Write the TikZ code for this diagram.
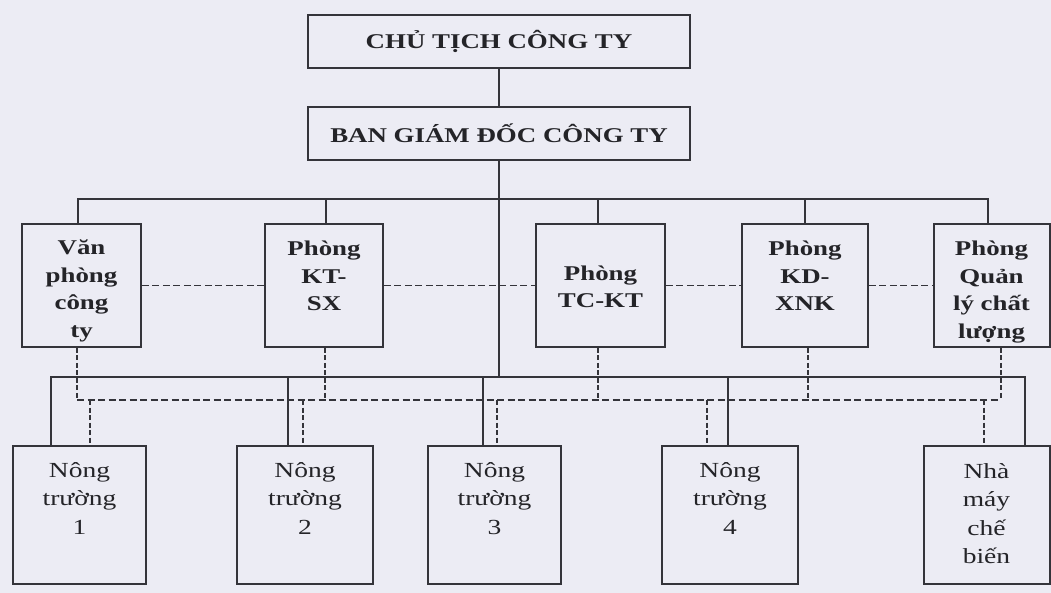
\documentclass[tikz,border=0pt]{standalone}
\usepackage{fontspec}
\setmainfont{Liberation Serif}[FakeStretch=1.28]
\definecolor{paper}{RGB}{236,236,244}
\definecolor{ink}{RGB}{52,52,58}
\definecolor{inktext}{RGB}{36,36,40}
\tikzset{
  box/.style={draw=ink, line width=1.5pt, rectangle, inner sep=0pt},
  wire/.style={draw=ink, line width=1.5pt},
  hdash/.style={wire, dash pattern=on 7pt off 3.5pt},
  vdash/.style={wire, dash pattern=on 5pt off 2.5pt},
  headtxt/.style={font=\bfseries\fontsize{21}{28}\selectfont, text=inktext},
  depttxt/.style={align=center, inner sep=0pt, text=inktext,
    font=\bfseries\fontsize{21}{27.5}\selectfont},
  unittxt/.style={align=center, inner sep=0pt, text=inktext,
    font=\fontsize{21.5}{28.5}\selectfont},
  dept/.style={box, minimum height=123pt},
  unit/.style={box, minimum height=138pt}
}
\begin{document}
\begin{tikzpicture}[x=1pt,y=-1pt]
\fill[paper] (0,0) rectangle (1051,593);
\useasboundingbox (0,0) rectangle (1051,593);

% management
\node[box, minimum width=382pt, minimum height=53pt, headtxt] (chu) at (499,41.5) {CHỦ TỊCH CÔNG TY};
\node[box, minimum width=382pt, minimum height=53pt, headtxt] (bgd) at (499,133.5) {BAN GIÁM ĐỐC CÔNG TY};

% departments
\node[dept, minimum width=119pt] (vp) at (81.5,285.5) {};
\node[dept, minimum width=118pt] (kt) at (324,285.5) {};
\node[dept, minimum width=129pt] (tc) at (600.5,285.5) {};
\node[dept, minimum width=126pt] (kd) at (805,285.5) {};
\node[dept, minimum width=116pt] (ql) at (992,285.5) {};

\node[depttxt, anchor=north] (vpt) at (81.5,240) {Văn\\phòng\\công\\ty};
\node[depttxt, anchor=north] (ktt) at (324,241) {Phòng\\KT-\\SX};
\node[depttxt] (tct) at (600.5,287) {Phòng\\TC-KT};
\node[depttxt, anchor=north] (kdt) at (805,241) {Phòng\\KD-\\XNK};
\node[depttxt, anchor=north] (qlt) at (991.5,241) {Phòng\\Quản\\lý chất\\lượng};

% production units
\node[unit, minimum width=133pt] (n1) at (79.5,515) {};
\node[unit, minimum width=136pt] (n2) at (305,515) {};
\node[unit, minimum width=133pt] (n3) at (494.5,515) {};
\node[unit, minimum width=136pt] (n4) at (730,515) {};
\node[unit, minimum width=126pt] (nm) at (987,515) {};

\node[unittxt, anchor=north] (n1t) at (79.5,462) {Nông\\trường\\1};
\node[unittxt, anchor=north] (n2t) at (305,462) {Nông\\trường\\2};
\node[unittxt, anchor=north] (n3t) at (494.5,462) {Nông\\trường\\3};
\node[unittxt, anchor=north] (n4t) at (730,462) {Nông\\trường\\4};
\node[unittxt, anchor=north] (nmt) at (986.5,463) {Nhà\\máy\\chế\\biến};

% line of command
\draw[wire] (chu.south) -- (bgd.north);
\draw[wire] (bgd.south) -- (bgd.south |- 0,377);
\draw[wire] (78,0 |- vp.north) -- (78,199) -- (988,199) -- (988,0 |- ql.north);
\foreach \n/\x in {kt/326, tc/598, kd/805}
  \draw[wire] (\x,199) -- (\x,0 |- \n.north);
\draw[wire] (51,0 |- n1.north) -- (51,377) -- (1025,377) -- (1025,0 |- nm.north);
\foreach \n/\x in {n2/288, n3/483, n4/728}
  \draw[wire] (\x,377) -- (\x,0 |- \n.north);

% coordination between departments
\draw[hdash] (vp.east) -- (kt.west);
\draw[hdash] (kt.east) -- (tc.west);
\draw[hdash] (tc.east) -- (kd.west);
\draw[hdash] (kd.east) -- (ql.west);

% professional guidance to units
\draw[hdash] (77,400) -- (1001,400);
\draw[vdash] (77,0 |- vp.south) -- (77,400);
\draw[vdash] (1001,0 |- ql.south) -- (1001,400);
\foreach \n/\x in {kt/325, tc/598, kd/808}
  \draw[vdash] (\x,0 |- \n.south) -- (\x,400);
\foreach \n/\x in {n1/90, n2/303, n3/497, n4/707, nm/984}
  \draw[vdash] (\x,400) -- (\x,0 |- \n.north);
\end{tikzpicture}
\end{document}
